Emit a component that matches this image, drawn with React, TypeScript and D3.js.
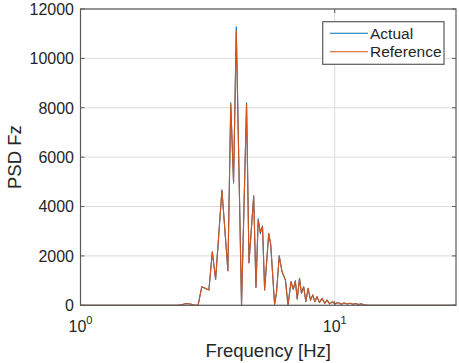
import React from "react";
import * as d3 from "d3";

const freqs = [1.0, 2.4, 2.5, 2.6, 2.7, 2.8, 2.9, 3.0, 3.2, 3.3, 3.4, 3.6, 3.8, 3.9, 4.0, 4.1, 4.3, 4.5, 4.6, 4.8, 4.9, 5.0, 5.1, 5.2, 5.3, 5.5, 5.6, 5.8, 5.9, 6.05, 6.2, 6.4, 6.55, 6.73, 6.87, 7.0, 7.12, 7.27, 7.4, 7.55, 7.7, 7.86, 8.03, 8.2, 8.35, 8.52, 8.71, 8.92, 9.13, 9.33, 9.55, 9.8, 10.0, 10.3, 10.6, 10.9, 11.2, 11.5, 11.8, 12.1, 12.4, 12.7, 13.0, 13.4, 30];
const reference = [0, 0, 20, 70, 50, 10, 0, 750, 620, 2170, 1050, 4670, 1400, 8120, 4960, 11100, 0, 8120, 1720, 4430, 720, 3430, 2980, 3180, 620, 2910, 2470, 40, 490, 2000, 1380, 1020, 0, 960, 650, 990, 250, 1090, 490, 750, 150, 690, 210, 420, 150, 350, 110, 280, 80, 210, 60, 150, 50, 110, 40, 90, 50, 80, 40, 70, 30, 60, 20, 0, 0];
const actual = [0, 0, 20, 70, 50, 10, 0, 750, 620, 2170, 1050, 4670, 1400, 8200, 4960, 11280, 0, 8200, 1720, 4430, 720, 3500, 2900, 3220, 620, 2910, 2470, 40, 490, 2000, 1380, 1020, 0, 960, 650, 990, 250, 1090, 490, 750, 150, 690, 210, 420, 150, 350, 110, 280, 80, 210, 60, 150, 50, 110, 40, 90, 50, 80, 40, 70, 30, 60, 20, 0, 0];
const yTicks = [0, 2000, 4000, 6000, 8000, 10000, 12000];
const xTicks = [1, 10];
const xTickExp = ["0", "1"];
const seriesNames = ["Actual", "Reference"];
const seriesColors = ["#0072BD", "#D95319"];

const W = 459, H = 363;
const L = 80.5, R = 456, T = 9, B = 305.3;
const FONT = "'Liberation Sans', Arial, Helvetica, sans-serif";
const TXT = "#262626";
const AX = "#5a5a5a";

export default function App() {
  const x = d3.scaleLog().domain([1, 30]).range([L, R]);
  const y = d3.scaleLinear().domain([0, 12000]).range([B, T]);
  const line = d3.line<number>().x((_, i) => x(freqs[i])).y((d) => y(d));
  const series = [actual, reference];

  return (
    <svg width={W} height={H} style={{ position: "absolute", left: 0, top: 0, background: "#fff" }} fontFamily={FONT}>
      <rect x={0} y={0} width={W} height={H} fill="#fff" />
      {/* grid */}
      {yTicks.map((t) => (
        <line key={"gy" + t} x1={L} x2={R} y1={y(t)} y2={y(t)} stroke="#dcdcdc" strokeWidth={1} />
      ))}
      {xTicks.map((t) => (
        <line key={"gx" + t} x1={x(t)} x2={x(t)} y1={T} y2={B} stroke="#dcdcdc" strokeWidth={1} />
      ))}
      {/* data */}
      {series.map((s, i) => (
        <path key={i} d={line(s) || ""} fill="none" stroke={seriesColors[i]} strokeWidth={1.1} strokeLinejoin="round" />
      ))}
      {/* box */}
      <rect x={L} y={T} width={R - L} height={B - T} fill="none" stroke={AX} strokeWidth={1.2} />
      {/* ticks */}
      {yTicks.map((t) => (
        <g key={"ty" + t}>
          <line x1={L} x2={L + 4} y1={y(t)} y2={y(t)} stroke={AX} />
          <line x1={R} x2={R - 4} y1={y(t)} y2={y(t)} stroke={AX} />
          <text x={74} y={y(t)} dy="0.36em" textAnchor="end" fontSize={16} fill={TXT}>
            {t}
          </text>
        </g>
      ))}
      {xTicks.map((t, i) => (
        <g key={"tx" + t}>
          <line x1={x(t)} x2={x(t)} y1={B} y2={B - 4} stroke={AX} />
          <line x1={x(t)} x2={x(t)} y1={T} y2={T + 4} stroke={AX} />
          <text x={x(t)} y={331.5} textAnchor="middle" fontSize={16} fill={TXT}>
            <tspan>10</tspan>
            <tspan dy={-8} fontSize={11}>{xTickExp[i]}</tspan>
          </text>
        </g>
      ))}
      {/* axis labels */}
      <text x={(L + R) / 2} y={357} textAnchor="middle" fontSize={18.5} fill={TXT}>
        Frequency [Hz]
      </text>
      <text transform={`translate(21,${(T + B) / 2}) rotate(-90)`} textAnchor="middle" fontSize={18.5} fill={TXT}>
        PSD Fz
      </text>
      {/* legend */}
      <rect x={322.7} y={21.7} width={121.3} height={42.6} fill="#fff" stroke={AX} strokeWidth={1.2} />
      {seriesNames.map((n, i) => (
        <g key={n}>
          <line x1={330} x2={368} y1={33.3 + i * 18.4} y2={33.3 + i * 18.4} stroke={seriesColors[i]} strokeWidth={1.1} />
          <text x={370} y={33.3 + i * 18.4} dy="0.36em" fontSize={15.5} fill={TXT}>
            {n}
          </text>
        </g>
      ))}
    </svg>
  );
}
